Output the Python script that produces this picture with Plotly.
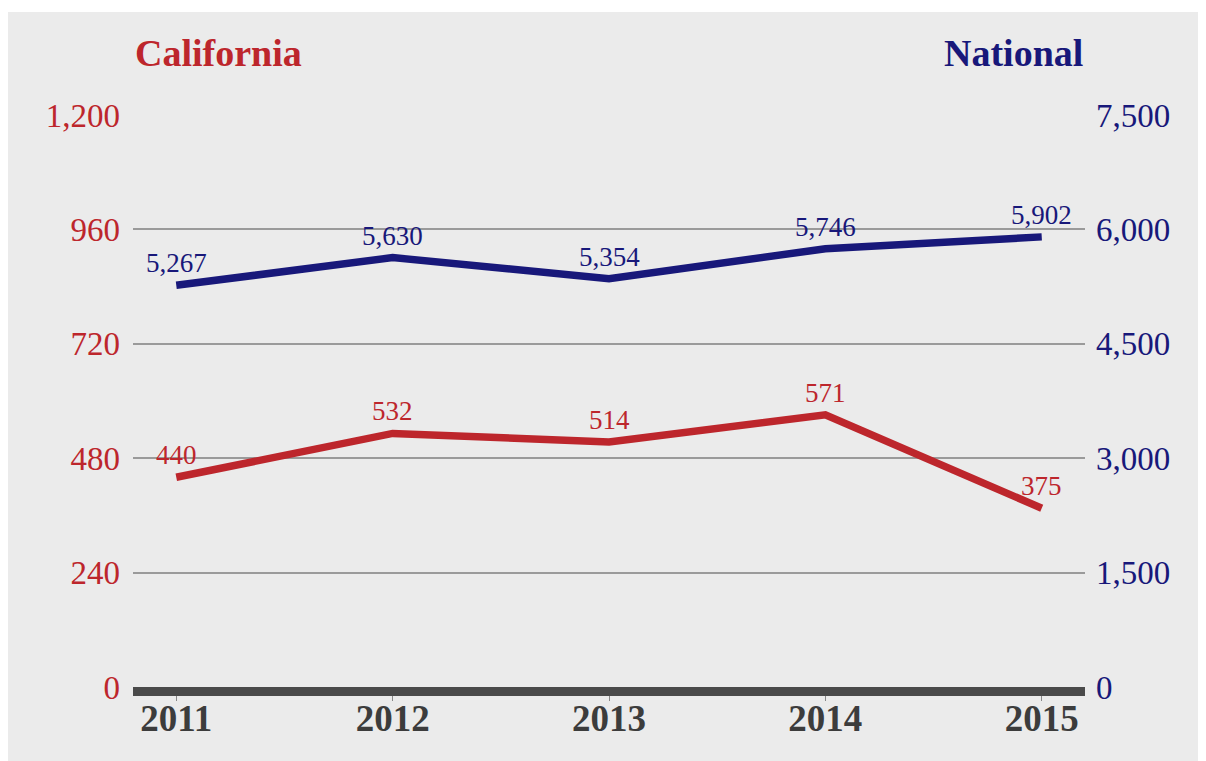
import plotly.graph_objects as go

years = [2011, 2012, 2013, 2014, 2015]
california = [440, 532, 514, 571, 375]
national = [5267, 5630, 5354, 5746, 5902]
left_ticks = [0, 240, 480, 720, 960, 1200]
right_ticks = [0, 1500, 3000, 4500, 6000, 7500]

RED = "#bd262c"
NAVY = "#18187a"
BG = "#ebebeb"
SERIF = "Liberation Serif, Times New Roman, serif"

# page offset compensation (body margin of 8px)
OFF = 8
L, R, T, B = 133 - OFF, 1085 - OFF, 115 - OFF, 687 - OFF
W, H = 1206, 761
PH = B - T

fig = go.Figure()
fig.add_trace(go.Scatter(
    x=years, y=california, mode="lines", name="California",
    line=dict(color=RED, width=7.5), yaxis="y"))
fig.add_trace(go.Scatter(
    x=years, y=national, mode="lines", name="National",
    line=dict(color=NAVY, width=7.5), yaxis="y2"))

annotations = []
for x, v in zip(years, california):
    annotations.append(dict(x=x, y=v, xref="x", yref="y", text=f"{v:,}",
                            showarrow=False, yanchor="bottom", yshift=5,
                            font=dict(family=SERIF, size=27, color=RED)))
for x, v in zip(years, national):
    annotations.append(dict(x=x, y=v, xref="x", yref="y2", text=f"{v:,}",
                            showarrow=False, yanchor="bottom", yshift=5,
                            font=dict(family=SERIF, size=27, color=NAVY)))
annotations += [
    dict(text="<b>California</b>", xref="paper", yref="paper",
         x=0, y=1 + (T - 53 + OFF) / PH, xanchor="left", yanchor="middle", showarrow=False,
         font=dict(family=SERIF, size=38, color=RED)),
    dict(text="<b>National</b>", xref="paper", yref="paper",
         x=1, y=1 + (T - 53 + OFF) / PH, xanchor="right", yanchor="middle", showarrow=False,
         font=dict(family=SERIF, size=38, color=NAVY)),
]

fig.update_layout(
    width=W, height=H,
    margin=dict(l=L, r=W - R, t=T, b=H - B),
    paper_bgcolor=BG, plot_bgcolor=BG,
    showlegend=False,
    xaxis=dict(
        range=[2010.8, 2015.2], tickvals=years, ticktext=[str(y) for y in years],
        showgrid=False, zeroline=False,
        showline=True, linecolor="#4a4a4a", linewidth=9,
        ticks="outside", ticklen=5, tickcolor="#888888", tickwidth=1,
        tickfont=dict(family=SERIF, size=37, color="#3c3c3c", weight="bold"),
        ticklabelstandoff=-14,
    ),
    yaxis=dict(
        range=[0, 1200], tickvals=left_ticks, ticktext=[f"{v:,}" for v in left_ticks],
        showgrid=True, gridcolor="#9a9a9a", gridwidth=1.5, zeroline=False,
        tickfont=dict(family=SERIF, size=33, color=RED),
        ticklabelstandoff=12,
    ),
    yaxis2=dict(
        range=[0, 7500], tickvals=right_ticks, ticktext=[f"{v:,}" for v in right_ticks],
        overlaying="y", side="right", showgrid=False, zeroline=False,
        tickfont=dict(family=SERIF, size=33, color=NAVY),
        ticklabelstandoff=10,
    ),
    shapes=[dict(type="rect", xref="paper", yref="paper",
                 x0=-0.2, x1=1.2, y0=1 + (T - 4) / PH, y1=1.3,
                 fillcolor="white", line=dict(width=0), layer="below")],
    annotations=annotations,
)

fig.write_html("out.html")
